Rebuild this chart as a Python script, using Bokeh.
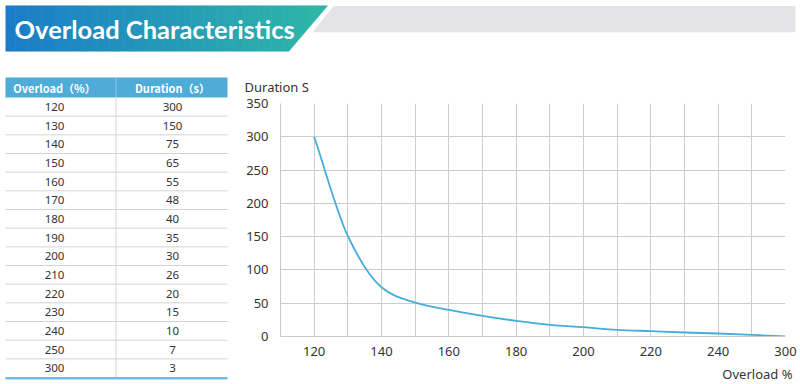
import numpy as np
from bokeh.plotting import figure
from bokeh.models import Range1d, FixedTicker
from bokeh.core.properties import value
from bokeh.embed import file_html
from bokeh.resources import INLINE

# ---------------- data ----------------
title_text = "Overload Characteristics"
table_headers = ["Overload（%）", "Duration（s）"]
table_overload = [120, 130, 140, 150, 160, 170, 180, 190, 200, 210, 220, 230, 240, 250, 300]
table_duration = [300, 150, 75, 65, 55, 48, 40, 35, 30, 26, 20, 15, 10, 7, 3]

curve_overload = [120, 130, 140, 150, 160, 170, 180, 190, 200, 210, 220, 230, 240, 250, 300]
curve_duration = [300, 151, 74, 51, 40, 31, 23.5, 17.5, 14, 10, 8, 6, 4.5, 2.5, 0]
x_tick_labels = ["120", "140", "160", "180", "200", "220", "240", "300"]
y_ticks = [0, 50, 100, 150, 200, 250, 300, 350]
y_axis_title = "Duration S"
x_axis_title = "Overload %"

# ---------------- layout constants ----------------
W, H = 800, 384
FONT = "Noto Sans"
TEXT_COLOR = "#333333"
GRID_COLOR = "#cccccc"

# ---------------- background: banner, table, axis titles ----------------
bg = figure(width=W, height=H, x_range=Range1d(0, W), y_range=Range1d(H, 0),
            output_backend="svg", toolbar_location=None, min_border=0,
            x_axis_location=None, y_axis_location=None)
bg.grid.visible = False
bg.outline_line_color = None

# banner gradient block
n = 100
edges = np.linspace(5, 329, n + 1)
c0 = np.array([26, 124, 200])
c1 = np.array([47, 183, 167])
cols = []
for i in range(n):
    t = i / (n - 1)
    c = (c0 * (1 - t) + c1 * t).round().astype(int)
    cols.append("#%02x%02x%02x" % tuple(c))
bg.quad(left=edges[:-1], right=edges[1:] + 0.6, top=5, bottom=51, color=cols, line_color=None)
bg.patch(x=[288, 328, 336, 336], y=[51.5, 4.5, 4.5, 51.5], color="white", line_color=None)
bg.patch(x=[333, 795, 795, 312], y=[5.5, 5.5, 31.7, 31.7], color="#e4e4e6", line_color=None)
bg.text(x=[14], y=[28], text=[title_text], text_font=value("Lato"), text_font_style="bold",
        text_font_size="25.5px", text_color="white", text_baseline="middle", text_align="left")

# table
t_left, t_right, t_div = 5, 227, 115.5
h_top, h_bot = 77, 97
row_h = 18.67
col_x = [54, 172]
bg.quad(left=t_left, right=t_right, top=h_top, bottom=h_bot, color="#4fabd7", line_color=None)
bg.segment(x0=t_div, y0=h_top, x1=t_div, y1=h_bot, line_color="#8fcbe8", line_width=1)
bg.text(x=col_x, y=[(h_top + h_bot) / 2] * 2, text=table_headers, text_font=value("Noto Sans CJK SC"),
        text_font_style="bold", text_font_size="11px", text_color="white",
        text_align="center", text_baseline="middle")
nrows = len(table_overload)
bottom = h_bot + nrows * row_h
bg.segment(x0=t_div, y0=h_bot, x1=t_div, y1=bottom, line_color="#e2e2e2", line_width=1.5)
sep_y = [h_bot + (i + 1) * row_h for i in range(nrows - 1)]
bg.segment(x0=[t_left] * len(sep_y), y0=sep_y, x1=[t_right] * len(sep_y), y1=sep_y,
           line_color="#d2d2d2", line_width=1)
bg.segment(x0=t_left, y0=bottom + 0.6, x1=t_right, y1=bottom + 0.6, line_color="#74bbe0", line_width=2.5)
ys = [h_bot + (i + 0.5) * row_h for i in range(nrows)]
bg.text(x=[col_x[0]] * nrows, y=ys, text=[str(v) for v in table_overload], text_font=value(FONT),
        text_font_size="11.5px", text_color=TEXT_COLOR, text_align="center", text_baseline="middle")
bg.text(x=[col_x[1]] * nrows, y=ys, text=[str(v) for v in table_duration], text_font=value(FONT),
        text_font_size="11.5px", text_color=TEXT_COLOR, text_align="center", text_baseline="middle")

# axis titles of the chart
bg.text(x=[244], y=[86], text=[y_axis_title], text_font=value(FONT), text_font_size="13px",
        text_color=TEXT_COLOR, text_align="left", text_baseline="middle")
bg.text(x=[792], y=[373], text=[x_axis_title], text_font=value(FONT), text_font_size="13px",
        text_color=TEXT_COLOR, text_align="right", text_baseline="middle")

# ---------------- chart ----------------
CH_LEFT, CH_TOP = 236, 70
pos = [i + 1 for i in range(len(curve_overload))]
p = figure(width=W - CH_LEFT, height=H - CH_TOP, x_range=Range1d(0, len(curve_overload)),
           y_range=Range1d(0, 350), output_backend="svg", toolbar_location=None,
           min_border_left=44, min_border_right=15, min_border_top=33, min_border_bottom=48)
p.outline_line_color = None
p.background_fill_alpha = 0
p.border_fill_alpha = 0
p.styles = {"position": "absolute", "left": f"{CH_LEFT}px", "top": f"{CH_TOP}px"}

tick_pos = [pos[curve_overload.index(int(lbl))] for lbl in x_tick_labels]
p.xaxis.ticker = FixedTicker(ticks=tick_pos)
p.xaxis.major_label_overrides = {tp: lbl for tp, lbl in zip(tick_pos, x_tick_labels)}
p.yaxis.ticker = FixedTicker(ticks=y_ticks)
for ax in (p.xaxis, p.yaxis):
    ax.axis_line_color = "#c8c8c8"
    ax.axis_line_width = 1
    ax.major_tick_line_color = None
    ax.minor_tick_line_color = None
    ax.major_tick_out = 0
    ax.major_tick_in = 0
    ax.major_label_text_font = FONT
    ax.major_label_text_font_size = "13px"
    ax.major_label_text_color = TEXT_COLOR
p.xaxis.major_label_standoff = 10
p.yaxis.major_label_standoff = 12

p.xgrid.ticker = FixedTicker(ticks=pos[:-1])
p.xgrid.grid_line_color = GRID_COLOR
p.ygrid.grid_line_color = GRID_COLOR

# smooth curve through the read values: tangents blend Catmull-Rom and monotone (Fritsch-Carlson)
xs = np.array(pos, dtype=float)
yv = np.array(curve_duration, dtype=float)
m = len(xs)
d = np.diff(yv) / np.diff(xs)
tan = np.zeros(m)
tan[0], tan[-1] = d[0], d[-1]
for i in range(1, m - 1):
    cr = (yv[i + 1] - yv[i - 1]) / (xs[i + 1] - xs[i - 1])
    mono = 2 * d[i - 1] * d[i] / (d[i - 1] + d[i]) if d[i - 1] * d[i] > 0 else 0.0
    tan[i] = 0.5 * (cr + mono)
h = np.diff(xs)
p.bezier(x0=xs[:-1], y0=yv[:-1], x1=xs[1:], y1=yv[1:],
         cx0=xs[:-1] + h / 3, cy0=yv[:-1] + tan[:-1] * h / 3,
         cx1=xs[1:] - h / 3, cy1=yv[1:] - tan[1:] * h / 3,
         line_color="#45acdb", line_width=1.8)

open("out.html", "w").write(file_html([bg, p], INLINE))
